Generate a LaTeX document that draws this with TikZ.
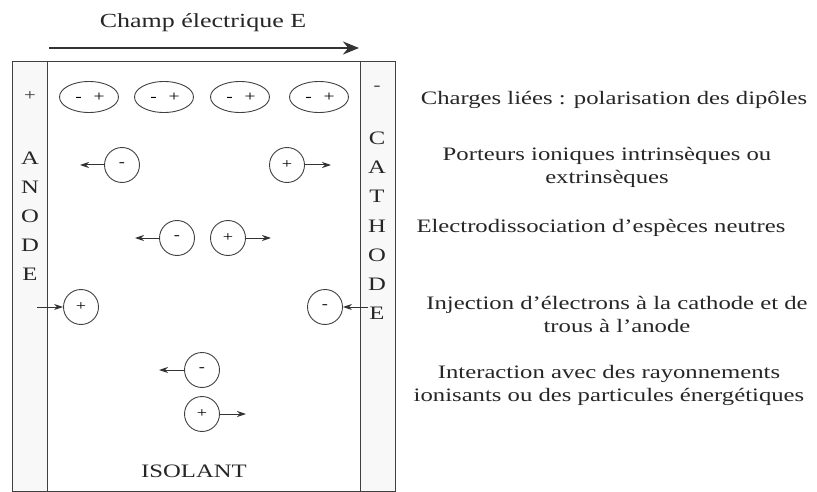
\documentclass[tikz,border=0pt]{standalone}
\usepackage{fontspec}
\setmainfont{Liberation Serif}[FakeStretch=1.3]
\usetikzlibrary{arrows.meta,shapes.geometric}
\begin{document}
\begin{tikzpicture}[x=1pt,y=-1pt,
  lin/.style={draw=black!75, line width=0.9pt},
  electrode/.style={lin, fill=blue!3!gray!5},
  dip/.style={lin, ellipse, minimum width=59pt, minimum height=31pt, inner sep=0pt, font=\fontsize{15}{15}\selectfont},
  chg/.style={lin, circle, minimum size=35pt, inner sep=0pt, font=\fontsize{14}{14}\selectfont},
  arr/.style={draw=black!80, line width=1pt, -{Stealth[length=9pt,width=6pt]}},
  lbl/.style={font=\fontsize{19}{23}\selectfont, align=center, text=black!85, inner sep=0pt},
  let/.style={font=\fontsize{19}{19}\selectfont, text=black!85, inner sep=0pt}
]
\useasboundingbox (0,0) rectangle (817,492);
% electrodes and insulator
\path[electrode] (12,61) rectangle (47,491);
\path[electrode] (360,61) rectangle (395,491);
\path[lin] (47,61) rectangle (360,491);
% field arrow
\node[lbl, font=\fontsize{20}{20}\selectfont] (title) at (203,23) {Champ électrique E};
\coordinate (fa) at (49,48);
\coordinate (fb) at (359,48);
\draw[draw=black!80, line width=2.2pt, -{Stealth[length=16pt,width=13pt]}] (fa) -- (fb);
% electrode signs
\node[font=\fontsize{16}{16}\selectfont, text=black!80] (pl) at (30,96) {+};
\node[font=\fontsize{16}{16}\selectfont, text=black!80] (mi) at (377,88) {-};
% ANODE letters
\foreach \l [count=\i] in {A,N,O,D,E}
  \node[let] (an\i) at (30,129+29*\i) {\l};
\foreach \l [count=\i] in {C,A,T,H,O,D,E}
  \node[let] (ca\i) at (377,109+29.2*\i) {\l};
% dipoles
\foreach \x [count=\i] in {89,164,240,319}
  \node[dip] (d\i) at (\x,97) {\hspace{2pt}-\hspace{12pt}+};
% intrinsic carriers
\node[chg] (c1) at (122,165) {-};
\coordinate (c1e) at (80,165);
\draw[arr] (c1) -- (c1e);
\node[chg] (c2) at (287,165) {+};
\coordinate (c2e) at (331,165);
\draw[arr] (c2) -- (c2e);
% electrodissociation
\node[chg] (c3) at (177,238) {-};
\coordinate (c3e) at (135,238);
\draw[arr] (c3) -- (c3e);
\node[chg] (c4) at (228,238) {+};
\coordinate (c4e) at (271,238);
\draw[arr] (c4) -- (c4e);
% injection
\node[chg] (c5) at (81,307) {+};
\coordinate (c5s) at (37,307);
\draw[arr] (c5s) -- (c5);
\node[chg] (c6) at (325,307) {-};
\coordinate (c6s) at (368,307);
\draw[arr] (c6s) -- (c6);
% radiation
\node[chg] (c7) at (202,370) {-};
\coordinate (c7e) at (159,370);
\draw[arr] (c7) -- (c7e);
\node[chg] (c8) at (202,414) {+};
\coordinate (c8e) at (246,414);
\draw[arr] (c8) -- (c8e);
\node[let] (iso) at (194,471) {ISOLANT};
% right labels
\node[lbl] (t1) at (614,100) {Charges liées : polarisation des dipôles};
\node[lbl] (t2) at (607,167) {Porteurs ioniques intrinsèques ou\\extrinsèques};
\node[lbl] (t3) at (601,228) {Electrodissociation d'espèces neutres};
\node[lbl] (t4) at (617,314) {Injection d'électrons à la cathode et de\\trous à l'anode};
\node[lbl] (t5) at (609,385) {Interaction avec des rayonnements\\ionisants ou des particules énergétiques};
\end{tikzpicture}
\end{document}
